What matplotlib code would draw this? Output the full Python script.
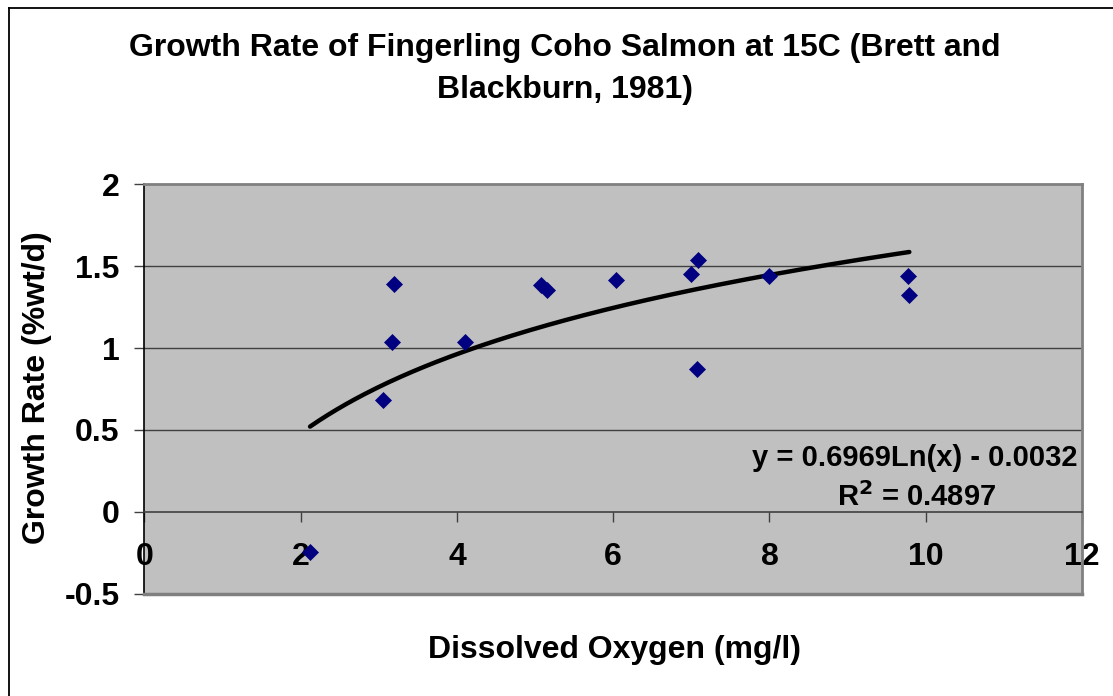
import numpy as np
import matplotlib
matplotlib.use("Agg")
import matplotlib.pyplot as plt
from matplotlib.lines import Line2D

# Data
dissolved_oxygen = [2.12, 3.06, 3.17, 3.20, 4.10, 5.08, 5.15, 6.04, 7.00, 7.07, 7.08, 7.99, 9.77, 9.79]
growth_rate = [-0.245, 0.683, 1.04, 1.39, 1.04, 1.385, 1.355, 1.413, 1.452, 0.871, 1.535, 1.437, 1.443, 1.324]

# Logarithmic trendline coefficients (from chart label)
trend_a = 0.6969
trend_b = -0.0032
r_squared = 0.4897

x_ticks = [0, 2, 4, 6, 8, 10, 12]
y_ticks = [-0.5, 0, 0.5, 1, 1.5, 2]

plt.rcParams['font.family'] = ['Liberation Sans', 'DejaVu Sans']
plt.rcParams['font.weight'] = 'bold'

W, H = 1113, 696
fig = plt.figure(figsize=(W / 100, H / 100), dpi=100)
fig.patch.set_facecolor('white')

ax = fig.add_axes([144.4 / W, 1 - 593.7 / H, (1082 - 144.4) / W, (593.7 - 184.3) / H])
ax.set_facecolor('#C0C0C0')
ax.set_xlim(0, 12)
ax.set_ylim(-0.5, 2)

# gridlines
for yv in [0.5, 1, 1.5]:
    ax.axhline(yv, color='#404040', lw=1.0, zorder=1)

# spines
ax.spines['left'].set_color('black')
ax.spines['left'].set_linewidth(1.2)
ax.spines['top'].set_color('#808080')
ax.spines['top'].set_linewidth(2)
ax.spines['right'].set_color('#808080')
ax.spines['right'].set_linewidth(2)
ax.spines['bottom'].set_position(('data', 0))
ax.spines['bottom'].set_color('#404040')
ax.spines['bottom'].set_linewidth(1.2)
ax.axhline(-0.5, color='#808080', lw=2.5, zorder=3, clip_on=False)

TICK_FS = 23
ax.set_xticks(x_ticks)
ax.set_yticks(y_ticks)
ax.set_xticklabels([str(v) for v in x_ticks])
ax.set_yticklabels(['-0.5', '0', '0.5', '1', '1.5', '2'])
ax.tick_params(axis='x', direction='out', length=7, width=1, colors='#404040',
               labelcolor='black', labelsize=TICK_FS, pad=15)
ax.tick_params(axis='y', direction='out', length=7, width=1, colors='#404040',
               labelcolor='black', labelsize=TICK_FS, pad=11)
for lbl in ax.get_xticklabels() + ax.get_yticklabels():
    lbl.set_fontweight('bold')

# scatter
ax.plot(dissolved_oxygen, growth_rate, linestyle='none', marker='D', markersize=8,
        color='#000080', markeredgecolor='#000080', markeredgewidth=0.5, zorder=5, clip_on=False)

# trendline
xt = np.linspace(min(dissolved_oxygen), max(dissolved_oxygen), 200)
ax.plot(xt, trend_a * np.log(xt) + trend_b, color='black', lw=3.2, solid_capstyle='round', zorder=4)

# equation labels
EQ_FS = 21
ax.text(1078 / W, 1 - 458 / H, 'y = 0.6969Ln(x) - 0.0032', transform=fig.transFigure,
        ha='right', va='center', fontsize=EQ_FS, fontweight='bold')
ax.text(917 / W, 1 - 497 / H, 'R$^{\\mathbf{2}}$ = 0.4897', transform=fig.transFigure,
        ha='center', va='center', fontsize=EQ_FS, fontweight='bold')

# titles
FS = 23
fig.text(565 / W, 1 - 48 / H, 'Growth Rate of Fingerling Coho Salmon at 15C (Brett and',
         ha='center', va='center', fontsize=FS, fontweight='bold')
fig.text(565 / W, 1 - 90 / H, 'Blackburn, 1981)',
         ha='center', va='center', fontsize=FS, fontweight='bold')
fig.text(614 / W, 1 - 650 / H, 'Dissolved Oxygen (mg/l)',
         ha='center', va='center', fontsize=FS, fontweight='bold')
fig.text(37 / W, 1 - 388 / H, 'Growth Rate (%wt/d)', rotation=90,
         ha='center', va='center', fontsize=FS, fontweight='bold')

# outer chart border (left and top visible)
fig.add_artist(Line2D([8.5 / W, 8.5 / W], [0, 1 - 8 / H], transform=fig.transFigure, color='black', lw=1.3))
fig.add_artist(Line2D([8.5 / W, 1], [1 - 8 / H, 1 - 8 / H], transform=fig.transFigure, color='black', lw=1.3))

fig.savefig('out.png', dpi=100, facecolor='white')
